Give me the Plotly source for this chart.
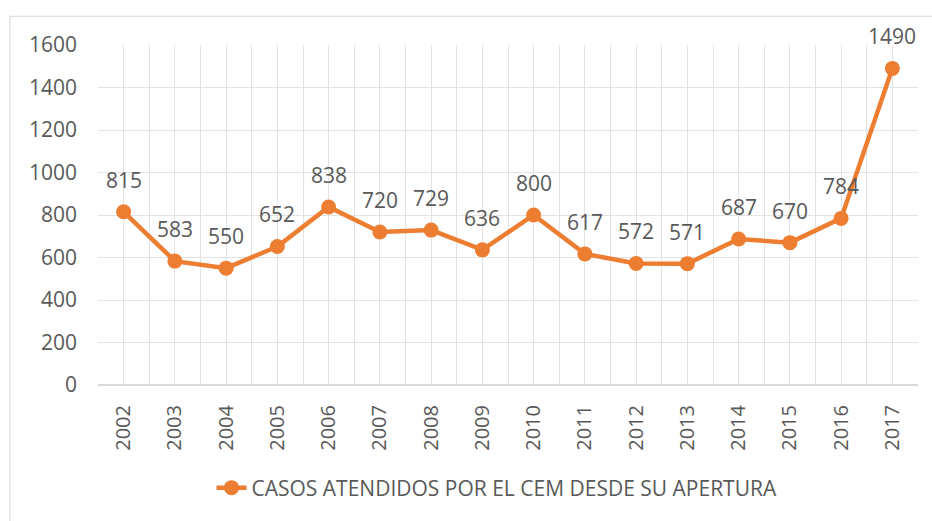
import plotly.graph_objects as go

years = ["2002", "2003", "2004", "2005", "2006", "2007", "2008", "2009",
         "2010", "2011", "2012", "2013", "2014", "2015", "2016", "2017"]
casos = [815, 583, 550, 652, 838, 720, 729, 636, 800, 617, 572, 571, 687, 670, 784, 1490]
y_ticks = [0, 200, 400, 600, 800, 1000, 1200, 1400, 1600]
series_name = "CASOS ATENDIDOS POR EL CEM DESDE SU APERTURA"

ORANGE = "#ED7D31"
TEXT = "#595959"
GRID = "#E3E3E3"
FONT = "Open Sans"

xs = list(range(len(years)))

fig = go.Figure()
fig.add_trace(go.Scatter(
    x=xs, y=casos, mode="lines+markers", name=series_name,
    line=dict(color=ORANGE, width=4.5),
    marker=dict(color=ORANGE, size=15),
    cliponaxis=False,
))

for xi, v in zip(xs, casos):
    fig.add_annotation(x=xi, y=v, text=str(v), showarrow=False, yshift=32,
                       font=dict(family=FONT, size=21, color=TEXT))

fig.add_shape(type="rect", xref="paper", yref="paper",
              x0=-0.1073, x1=1.2, y0=-0.6, y1=1.0845,
              line=dict(color="#D9D9D9", width=1), layer="below")

fig.update_layout(
    width=932, height=521,
    margin=dict(l=98, r=14, t=45, b=133),
    paper_bgcolor="white", plot_bgcolor="white",
    font=dict(family=FONT, size=20, color=TEXT),
    showlegend=True,
    legend=dict(orientation="h", x=0.4866, xanchor="center", y=-0.303, yanchor="middle",
                font=dict(family=FONT, size=21, color=TEXT), bgcolor="rgba(0,0,0,0)"),
    xaxis=dict(range=[-0.5, len(years) - 0.5], tickvals=xs, ticktext=years,
               tickangle=-90, showgrid=True, gridcolor=GRID, gridwidth=1,
               zeroline=False, showline=False, ticks="",
               ticklabelstandoff=15,
               minor=dict(tick0=-0.5, dtick=1, showgrid=True, gridcolor=GRID, gridwidth=1, ticks=""),
               tickfont=dict(family=FONT, size=20, color=TEXT)),
    yaxis=dict(range=[0, 1600], tickvals=y_ticks, showgrid=True, gridcolor=GRID, gridwidth=1,
               zeroline=True, zerolinecolor="#D9D9D9", zerolinewidth=2,
               ticks="", ticklabelstandoff=20,
               tickfont=dict(family=FONT, size=21, color=TEXT)),
)

fig.write_html("out.html", config={"displayModeBar": False},
               post_script="document.body.style.margin='0';document.body.style.padding='0';")
